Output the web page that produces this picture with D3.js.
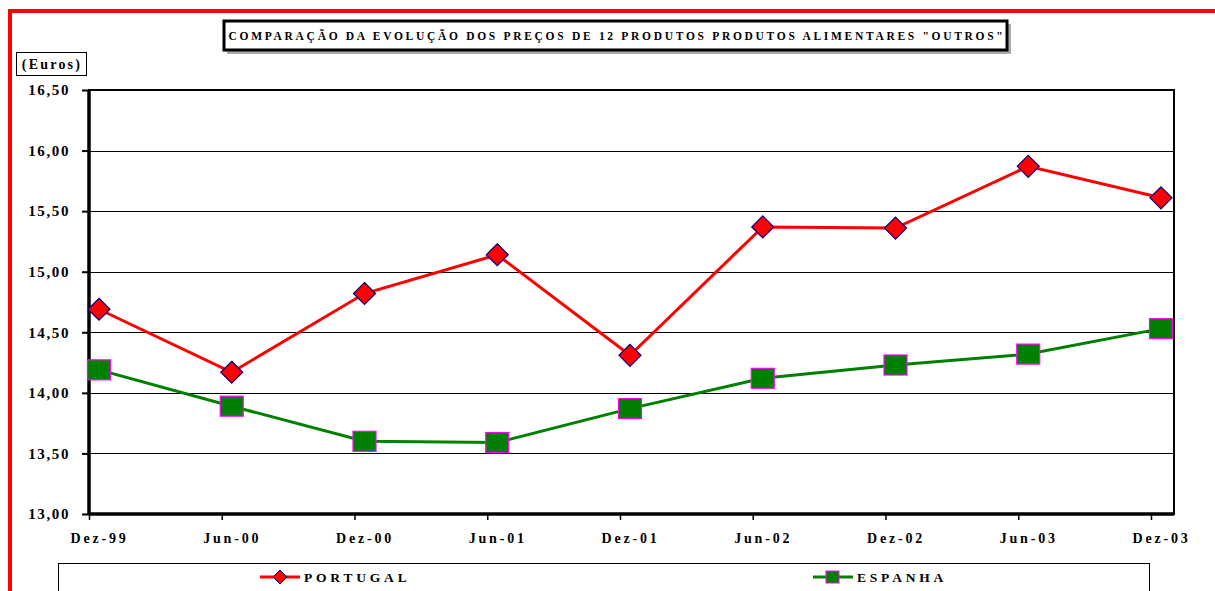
<!DOCTYPE html>
<html>
<head>
<meta charset="utf-8" />
<title>Comparação da evolução dos preços</title>
<script src="https://d3js.org/d3.v7.min.js"></script>
<style>
    body { margin: 0; background: #fff; }
    text { font-family: "Liberation Serif", "DejaVu Serif", serif; font-weight: bold; }
</style>
</head>
<body>
<div id="chart"></div>
<script>
// data
var periodos = ["Dez-99", "Jun-00", "Dez-00", "Jun-01", "Dez-01", "Jun-02", "Dez-02", "Jun-03", "Dez-03"];
var portugal = [14.69, 14.17, 14.82, 15.14, 14.31, 15.37, 15.36, 15.87, 15.61];
var espanha  = [14.19, 13.89, 13.60, 13.59, 13.87, 14.12, 14.23, 14.32, 14.53];
var yTicks = [13.0, 13.5, 14.0, 14.5, 15.0, 15.5, 16.0, 16.5];

var W = 1215, H = 591;
var plot = {left: 89, right: 1174, top: 90, bottom: 514};

var svg = d3.select("#chart").append("svg")
    .attr("width", W).attr("height", H);

// red page frame
svg.append("line").attr("x1", 8).attr("x2", W).attr("y1", 11).attr("y2", 11)
    .attr("stroke", "#ff0000").attr("stroke-width", 4);
svg.append("line").attr("x1", 10).attr("x2", 10).attr("y1", 9).attr("y2", H)
    .attr("stroke", "#ff0000").attr("stroke-width", 4);

// title box
svg.append("rect").attr("x", 227).attr("y", 24).attr("width", 784).attr("height", 30)
    .attr("fill", "#aaa");
svg.append("rect").attr("x", 224).attr("y", 21).attr("width", 783).attr("height", 29)
    .attr("fill", "#fff").attr("stroke", "#000").attr("stroke-width", 3);
svg.append("text").attr("x", 617).attr("y", 40).attr("text-anchor", "middle")
    .attr("font-size", 11.5).attr("letter-spacing", 2.7)
    .text('COMPARAÇÃO DA EVOLUÇÃO DOS PREÇOS DE 12 PRODUTOS PRODUTOS ALIMENTARES "OUTROS"');

// units box
svg.append("rect").attr("x", 16.5).attr("y", 52.5).attr("width", 70).attr("height", 23)
    .attr("fill", "#fff").attr("stroke", "#000").attr("stroke-width", 1);
svg.append("text").attr("x", 52).attr("y", 69).attr("text-anchor", "middle")
    .attr("font-size", 14).attr("letter-spacing", 2.2).text("(Euros)");

var y = d3.scaleLinear().domain([13, 16.5]).range([plot.bottom, plot.top]);
var x = d3.scalePoint().domain(periodos).range([99, 1161]);

// gridlines
svg.append("g").selectAll("line").data(yTicks.slice(1, -1)).enter().append("line")
    .attr("x1", plot.left).attr("x2", plot.right)
    .attr("y1", function(d) { return Math.round(y(d)) + 0.5; })
    .attr("y2", function(d) { return Math.round(y(d)) + 0.5; })
    .attr("stroke", "#000").attr("stroke-width", 1);

// y axis
var fmt = function(d) { return d3.format(".2f")(d).replace(".", ","); };
var yAxis = svg.append("g").attr("transform", "translate(" + plot.left + ",0)")
    .call(d3.axisLeft(y).tickValues(yTicks).tickFormat(fmt).tickSize(7).tickPadding(12));
yAxis.select(".domain").remove();
yAxis.selectAll(".tick line").attr("stroke", "#000").attr("stroke-width", 2);
yAxis.selectAll(".tick text").attr("font-size", 15).attr("letter-spacing", 1.6)
    .attr("fill", "#000").style("font-family", "Liberation Serif, serif").style("font-weight", "bold");

// x axis: ticks sit a little left of each label
var xAxis = svg.append("g").attr("transform", "translate(0," + plot.bottom + ")")
    .call(d3.axisBottom(x).tickSize(6).tickPadding(13));
xAxis.select(".domain").remove();
xAxis.selectAll(".tick line").attr("x1", -10).attr("x2", -10).attr("stroke", "#000").attr("stroke-width", 1.5);
xAxis.selectAll(".tick text").attr("font-size", 14).attr("letter-spacing", 2.8)
    .attr("fill", "#000").style("font-family", "Liberation Serif, serif").style("font-weight", "bold");

// plot frame
svg.append("rect").attr("x", plot.left).attr("y", plot.top)
    .attr("width", plot.right - plot.left).attr("height", plot.bottom - plot.top)
    .attr("fill", "none").attr("stroke", "#000").attr("stroke-width", 2);
svg.append("line").attr("x1", plot.left).attr("x2", plot.left).attr("y1", plot.top).attr("y2", plot.bottom + 1)
    .attr("stroke", "#000").attr("stroke-width", 3.5);
svg.append("line").attr("x1", plot.left).attr("x2", plot.right).attr("y1", plot.bottom).attr("y2", plot.bottom)
    .attr("stroke", "#000").attr("stroke-width", 3.5);

var line = d3.line()
    .x(function(d, i) { return x(periodos[i]); })
    .y(function(d) { return y(d); });

svg.append("path").datum(portugal).attr("d", line)
    .attr("fill", "none").attr("stroke", "#ff0000").attr("stroke-width", 3);
svg.append("path").datum(espanha).attr("d", line)
    .attr("fill", "none").attr("stroke", "#008000").attr("stroke-width", 3);

var diamond = function(cx, cy, r) {
    return "M" + cx + "," + (cy - r) + "L" + (cx + r) + "," + cy + "L" + cx + "," + (cy + r) + "L" + (cx - r) + "," + cy + "Z";
};

svg.append("g").selectAll("path").data(portugal).enter().append("path")
    .attr("d", function(d, i) { return diamond(x(periodos[i]), y(d), 11); })
    .attr("fill", "#ff0000").attr("stroke", "#000080").attr("stroke-width", 1.2);

svg.append("g").selectAll("rect").data(espanha).enter().append("rect")
    .attr("x", function(d, i) { return x(periodos[i]) - 11.5; })
    .attr("y", function(d) { return y(d) - 10; })
    .attr("width", 23).attr("height", 20)
    .attr("fill", "#008000").attr("stroke", "#ff00ff").attr("stroke-width", 1.2);

// legend
svg.append("rect").attr("x", 58.5).attr("y", 563.5).attr("width", 1091).attr("height", 40)
    .attr("fill", "#fff").attr("stroke", "#000").attr("stroke-width", 1);

var legend = [
    {name: "PORTUGAL", x: 260, color: "#ff0000"},
    {name: "ESPANHA", x: 813, color: "#008000"}
];
var lg = svg.append("g").selectAll("g").data(legend).enter().append("g");
lg.append("line").attr("x1", function(d) { return d.x; }).attr("x2", function(d) { return d.x + 40; })
    .attr("y1", 577).attr("y2", 577)
    .attr("stroke", function(d) { return d.color; }).attr("stroke-width", 3);
lg.filter(function(d, i) { return i === 0; }).append("path")
    .attr("d", diamond(280, 577, 7))
    .attr("fill", "#ff0000").attr("stroke", "#000080").attr("stroke-width", 1);
lg.filter(function(d, i) { return i === 1; }).append("rect")
    .attr("x", 826).attr("y", 571).attr("width", 13).attr("height", 12)
    .attr("fill", "#008000").attr("stroke", "#ff00ff").attr("stroke-width", 1);
lg.append("text").attr("x", function(d) { return d.x + 44; }).attr("y", 582)
    .attr("font-size", 13.5).attr("letter-spacing", 3.8)
    .text(function(d) { return d.name; });
</script>
</body>
</html>
